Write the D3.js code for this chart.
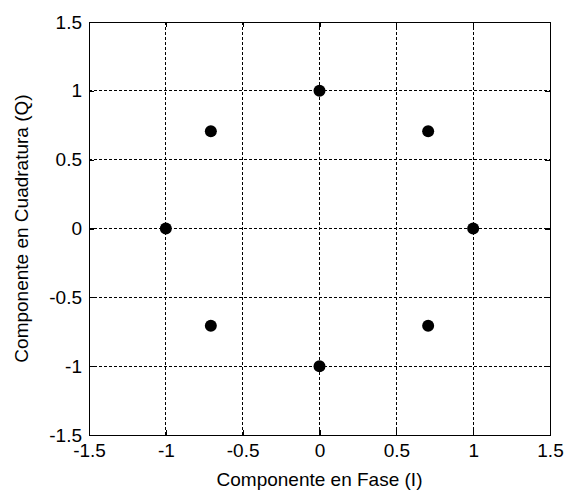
<!DOCTYPE html>
<html>
<head>
<meta charset="utf-8">
<script src="https://cdn.jsdelivr.net/npm/d3@7"></script>
<style>
  body { margin: 0; background: #fff; }
  text { font-family: "Liberation Sans", Arial, sans-serif; }
</style>
</head>
<body>
<div id="chart"></div>
<script>
const WIDTH = 565;
const HEIGHT = 491;
const MARGIN = { TOP: 22, BOTTOM: 56, LEFT: 89, RIGHT: 15 };

const width = WIDTH - MARGIN.LEFT - MARGIN.RIGHT;
const height = HEIGHT - MARGIN.TOP - MARGIN.BOTTOM;

// 8-PSK constellation points
const iValues = [1, 0.7071, 0, -0.7071, -1, -0.7071, 0, 0.7071];
const qValues = [0, 0.7071, 1, 0.7071, 0, -0.7071, -1, -0.7071];
const ticks = [-1.5, -1, -0.5, 0, 0.5, 1, 1.5];

const FONT = 19;

const svg = d3.select('#chart')
  .append('svg')
    .attr('width', WIDTH)
    .attr('height', HEIGHT)
  .append('g')
    .attr('transform', `translate(${MARGIN.LEFT}, ${MARGIN.TOP})`);

const x = d3.scaleLinear().domain([-1.5, 1.5]).range([0, width]);
const y = d3.scaleLinear().domain([-1.5, 1.5]).range([height, 0]);

// grid
svg.append('g').selectAll('line')
   .data(ticks.slice(1, -1))
   .enter().append('line')
   .attr('x1', d => x(d)).attr('x2', d => x(d))
   .attr('y1', 0).attr('y2', height)
   .attr('stroke', '#000').attr('stroke-width', 1)
   .attr('stroke-dasharray', '3,2')
   .attr('shape-rendering', 'crispEdges');

svg.append('g').selectAll('line')
   .data(ticks.slice(1, -1))
   .enter().append('line')
   .attr('y1', d => y(d)).attr('y2', d => y(d))
   .attr('x1', 0).attr('x2', width)
   .attr('stroke', '#000').attr('stroke-width', 1)
   .attr('stroke-dasharray', '3,2')
   .attr('shape-rendering', 'crispEdges');

const fmt = d => String(d);

// axes
const xAxis = svg.append('g')
  .attr('transform', `translate(0, ${height})`)
  .call(d3.axisBottom(x).tickValues(ticks).tickSizeInner(-5).tickSizeOuter(0)
        .tickPadding(9).tickFormat(fmt));
const yAxis = svg.append('g')
  .call(d3.axisLeft(y).tickValues(ticks).tickSizeInner(-5).tickSizeOuter(0)
        .tickPadding(7).tickFormat(fmt));
const xTop = svg.append('g')
  .call(d3.axisTop(x).tickValues(ticks).tickSizeInner(-5).tickSizeOuter(0).tickFormat(''));
const yRight = svg.append('g')
  .attr('transform', `translate(${width}, 0)`)
  .call(d3.axisRight(y).tickValues(ticks).tickSizeInner(-5).tickSizeOuter(0).tickFormat(''));

[xAxis, yAxis, xTop, yRight].forEach(a => {
  a.selectAll('path, line').attr('stroke', '#000').attr('stroke-width', 1.3)
   .attr('shape-rendering', 'crispEdges');
  a.selectAll('text').attr('font-size', FONT).attr('fill', '#000');
});
xAxis.selectAll('text').attr('dy', '0.71em');

// points
svg.selectAll('.pt')
   .data(iValues.map((v, i) => ({ i: v, q: qValues[i] })))
   .enter().append('circle')
   .attr('class', 'pt')
   .attr('cx', d => x(d.i))
   .attr('cy', d => y(d.q))
   .attr('r', 6)
   .attr('fill', '#000');

// labels
svg.append('text')
   .attr('x', width / 2)
   .attr('y', height + 51)
   .attr('text-anchor', 'middle')
   .attr('font-size', FONT)
   .text('Componente en Fase (I)');

svg.append('text')
   .attr('transform', `translate(${-61}, ${height / 2}) rotate(-90)`)
   .attr('text-anchor', 'middle')
   .attr('font-size', FONT)
   .text('Componente en Cuadratura (Q)');
</script>
</body>
</html>
